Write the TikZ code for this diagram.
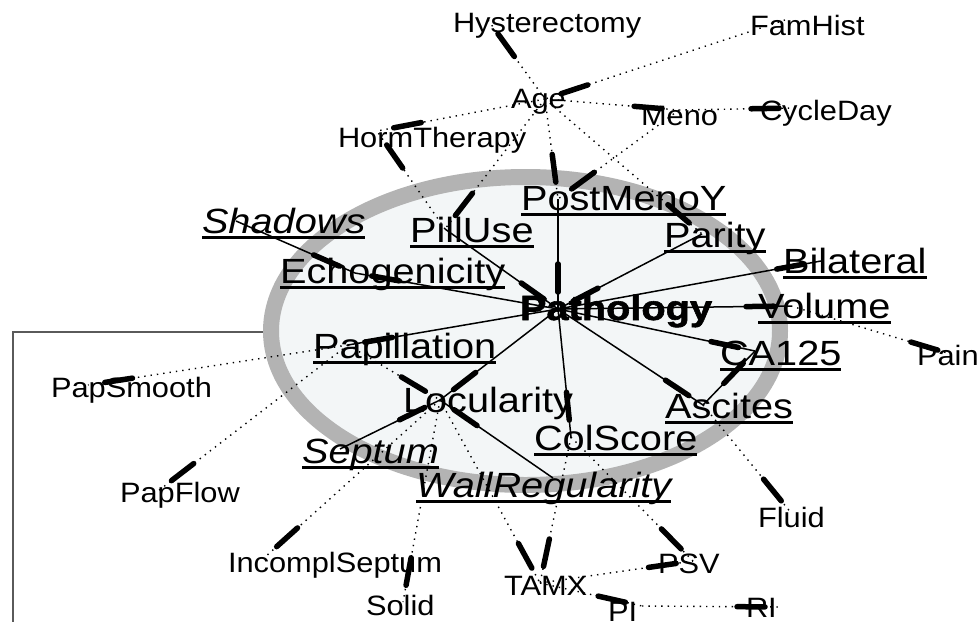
\documentclass[tikz,border=0pt]{standalone}
\usepackage{fontspec}
\setmainfont{Liberation Sans}
\newfontfamily\heavyfont{Liberation Sans}[BoldFeatures={FakeBold=1.6}]
\usepackage{graphicx}
\usetikzlibrary{calc}
\definecolor{ringgray}{HTML}{B3B3B3}
\definecolor{ellfill}{HTML}{F3F6F7}
\definecolor{framegray}{HTML}{5A5A5A}
\newcommand\smallLab[1]{\fontsize{28}{32}\selectfont\scalebox{1.10}[1]{#1}}
\newcommand\bigLab[1]{\fontsize{35}{40}\selectfont\scalebox{1.135}[1]{#1}}
\tikzset{
  lab/.style={anchor=base west, inner sep=0pt, outer sep=0pt},
  ulline/.style={line width=2.8pt},
  soledge/.style={line width=1.5pt},
  dotedge/.style={line width=1.4pt, dash pattern=on 1.4pt off 5pt},
  headseg/.style={line width=5.5pt, line cap=round},
}
\newcommand\edgeS[2]{\draw[soledge] (#1) -- (#2); \draw[headseg] ($(#2)!17pt!(#1)$) -- ($(#2)!45pt!(#1)$);}
\newcommand\edgeD[2]{\draw[dotedge] (#1) -- (#2); \draw[headseg] ($(#2)!17pt!(#1)$) -- ($(#2)!45pt!(#1)$);}
\newcommand\ulab[1]{\draw[ulline] ([yshift=-4.5pt]#1.base west) -- ([yshift=-4.5pt]#1.base east);}
\begin{document}
\begin{tikzpicture}[x=1pt,y=-1pt]
\useasboundingbox (0,0) rectangle (979,621);
% frame and ellipse
\draw[framegray, line width=1.3pt] (300,332) -- (13,332) -- (13,640);
\draw[ringgray, line width=16pt, fill=ellfill] (525.5,331) ellipse [x radius=254.5pt, y radius=154pt];
% anchor points
\coordinate (nAge) at (545,99);
\coordinate (nHyst) at (488,20);
\coordinate (nFam) at (785,20);
\coordinate (nMeno) at (679,110);
\coordinate (nCycle) at (796,108);
\coordinate (nHorm) at (377,131);
\coordinate (nPost) at (558,199);
\coordinate (nPill) at (445,229);
\coordinate (nParity) at (702,234);
\coordinate (nShadows) at (236,221);
\coordinate (nEcho) at (355,273);
\coordinate (nBilat) at (821,261);
\coordinate (nPath) at (558,309);
\coordinate (nVolume) at (791,306);
\coordinate (nPain) at (954,355);
\coordinate (nPapill) at (348,345);
\coordinate (nPapSm) at (88,385);
\coordinate (nCA) at (755,351);
\coordinate (nLocul) at (440,400);
\coordinate (nAscites) at (703,405);
\coordinate (nCol) at (571,437);
\coordinate (nSeptum) at (340,449);
\coordinate (nWall) at (553,478);
\coordinate (nPapFl) at (158,491);
\coordinate (nFluid) at (792,514);
\coordinate (nIncompl) at (264,558);
\coordinate (nPSV) at (693,561);
\coordinate (nTAMX) at (540,583);
\coordinate (nSolid) at (403,602);
\coordinate (nPI) at (642,606);
\coordinate (nRI) at (782,607);
% small labels
\node[lab] (tHyst) at (453,32) {\smallLab{Hysterectomy}};
\node[lab] (tFam) at (750,35) {\smallLab{FamHist}};
\node[lab] (tAge) at (511,108) {\smallLab{Age}};
\node[lab] (tMeno) at (641,125) {\smallLab{Meno}};
\node[lab] (tCycle) at (760,120) {\smallLab{CycleDay}};
\node[lab] (tHorm) at (338,147) {\smallLab{HormTherapy}};
\node[lab] (tPapSm) at (51,397) {\smallLab{PapSmooth}};
\node[lab] (tPain) at (917,365) {\smallLab{Pain}};
\node[lab] (tPapFl) at (120,502) {\smallLab{PapFlow}};
\node[lab] (tFluid) at (758,527) {\smallLab{Fluid}};
\node[lab] (tIncompl) at (228,572) {\smallLab{IncomplSeptum}};
\node[lab] (tPSV) at (658,573) {\smallLab{PSV}};
\node[lab] (tTAMX) at (504,595) {\smallLab{TAMX}};
\node[lab] (tSolid) at (366,615) {\smallLab{Solid}};
\node[lab] (tPI) at (608,621) {\smallLab{PI}};
\node[lab] (tRI) at (746,617) {\smallLab{RI}};
% big labels
\node[lab] (tPost) at (521,210) {\bigLab{PostMenoY}}; \ulab{tPost}
\node[lab] (tPill) at (410,242) {\bigLab{PillUse}}; \ulab{tPill}
\node[lab] (tParity) at (664,247) {\bigLab{Parity}}; \ulab{tParity}
\node[lab] (tShadows) at (202,233) {\bigLab{\itshape Shadows}}; \ulab{tShadows}
\node[lab] (tEcho) at (280,283) {\bigLab{Echogenicity}}; \ulab{tEcho}
\node[lab] (tBilat) at (783,273) {\bigLab{Bilateral}}; \ulab{tBilat}
\node[lab] (tPath) at (520,320) {\bigLab{\heavyfont\bfseries Pathology}};
\node[lab] (tVolume) at (758,318) {\bigLab{Volume}}; \ulab{tVolume}
\node[lab] (tPapill) at (313,358) {\bigLab{Papillation}}; \ulab{tPapill}
\node[lab] (tCA) at (720,365) {\bigLab{CA125}}; \ulab{tCA}
\node[lab] (tLocul) at (403,412) {\bigLab{Locularity}};
\node[lab] (tAscites) at (665,418) {\bigLab{Ascites}}; \ulab{tAscites}
\node[lab] (tCol) at (534,450) {\bigLab{ColScore}}; \ulab{tCol}
\node[lab] (tSeptum) at (302,463) {\bigLab{\itshape Septum}}; \ulab{tSeptum}
\node[lab] (tWall) at (416,497) {\bigLab{\itshape WallRegularity}}; \ulab{tWall}
% solid edges
\edgeS{nPost}{nPath}
\edgeS{nPill}{nPath}
\edgeS{nParity}{nPath}
\edgeS{nShadows}{nEcho}
\edgeS{nPath}{nEcho}
\edgeS{nPath}{nBilat}
\edgeS{nPath}{nVolume}
\edgeS{nPath}{nPapill}
\edgeS{nPath}{nCA}
\edgeS{nPath}{nLocul}
\edgeS{nPath}{nAscites}
\edgeS{nPath}{nCol}
\edgeS{nAscites}{nCA}
\edgeS{nSeptum}{nLocul}
\edgeS{nWall}{nLocul}
% dotted edges
\edgeD{nAge}{nHyst}
\edgeD{nFam}{nAge}
\edgeD{nAge}{nMeno}
\edgeD{nMeno}{nCycle}
\edgeD{nAge}{nHorm}
\edgeD{nPill}{nHorm}
\edgeD{nAge}{nPost}
\edgeD{nMeno}{nPost}
\edgeD{nAge}{nParity}
\edgeD{nAge}{nPill}
\edgeD{nVolume}{nPain}
\edgeD{nPapill}{nPapSm}
\edgeD{nPapill}{nPapFl}
\edgeD{nPapill}{nLocul}
\edgeD{nLocul}{nIncompl}
\edgeD{nLocul}{nSolid}
\edgeD{nLocul}{nTAMX}
\edgeD{nCol}{nTAMX}
\edgeD{nCol}{nPSV}
\edgeD{nTAMX}{nPSV}
\edgeD{nTAMX}{nPI}
\edgeD{nPI}{nRI}
\edgeD{nAscites}{nFluid}
\end{tikzpicture}
\end{document}
